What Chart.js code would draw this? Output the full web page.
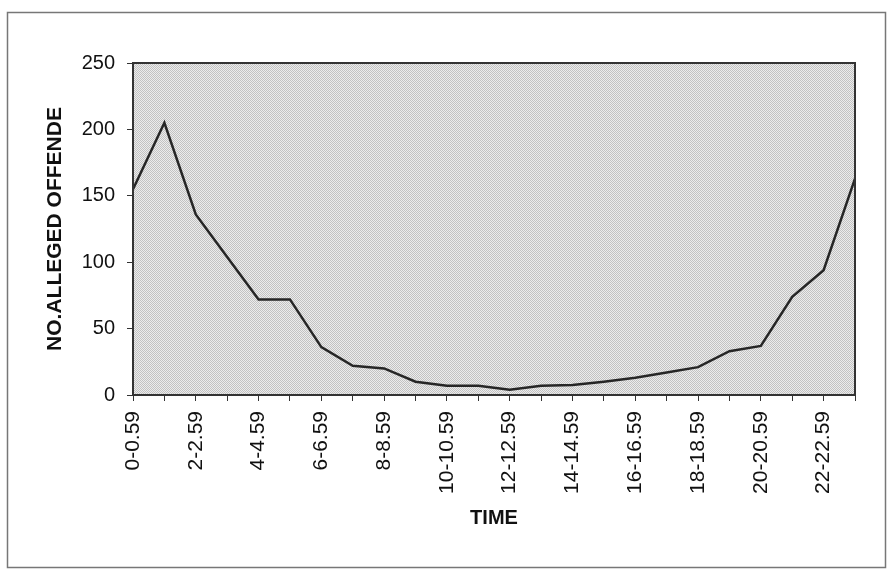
<!DOCTYPE html>
<html lang="en">
<head>
    <meta charset="UTF-8">
    <title>Alleged offenders by time</title>
    <script src="https://cdn.jsdelivr.net/npm/chart.js"></script>
    <style>
        body { margin: 0; background: #ffffff; }
        canvas { display: block; }
    </style>
</head>
<body>
    <canvas id="offendersChart" width="892" height="577"></canvas>

    <script>
        // data
        const timeLabels = ['0-0.59', '1-1.59', '2-2.59', '3-3.59', '4-4.59', '5-5.59',
            '6-6.59', '7-7.59', '8-8.59', '9-9.59', '10-10.59', '11-11.59',
            '12-12.59', '13-13.59', '14-14.59', '15-15.59', '16-16.59', '17-17.59',
            '18-18.59', '19-19.59', '20-20.59', '21-21.59', '22-22.59', '23-23.59'];
        const offenders = [155, 205, 136, 104, 72, 72, 36, 22, 20, 10, 7, 7,
            4, 7, 7.5, 10, 13, 17, 21, 33, 37, 74, 94, 163];
        const yTicks = [0, 50, 100, 150, 200, 250];

        // dotted grey fill like the old printout
        function makePattern() {
            let c = document.createElement('canvas');
            c.width = 2;
            c.height = 2;
            let p = c.getContext('2d');
            p.fillStyle = '#ececec';
            p.fillRect(0, 0, 2, 2);
            p.fillStyle = '#c2c2c2';
            p.fillRect(0, 0, 1, 1);
            p.fillRect(1, 1, 1, 1);
            return p.createPattern(c, 'repeat');
        }

        const plotBox = {
            id: 'plotBox',
            beforeDatasetsDraw(chart) {
                const {ctx, chartArea} = chart;
                ctx.save();
                ctx.fillStyle = makePattern();
                ctx.fillRect(chartArea.left, chartArea.top, chartArea.right - chartArea.left, chartArea.bottom - chartArea.top);
                ctx.restore();
            },
            afterDraw(chart) {
                const {ctx, chartArea} = chart;
                ctx.save();
                ctx.strokeStyle = '#333333';
                ctx.lineWidth = 2;
                ctx.strokeRect(chartArea.left, chartArea.top, chartArea.right - chartArea.left, chartArea.bottom - chartArea.top);
                // outer frame
                ctx.strokeStyle = '#777777';
                ctx.lineWidth = 1.5;
                ctx.strokeRect(7.5, 12.5, 878, 555);
                ctx.restore();
            }
        };

        const ctx = document.getElementById('offendersChart').getContext('2d');
        const offendersChart = new Chart(ctx, {
            type: 'line',
            data: {
                labels: timeLabels,
                datasets: [{
                    label: 'NO.ALLEGED OFFENDE',
                    data: offenders,
                    borderColor: '#262626',
                    borderWidth: 2.5,
                    pointRadius: 0,
                    tension: 0,
                    fill: false
                }]
            },
            options: {
                responsive: false,
                animation: false,
                devicePixelRatio: 1,
                layout: {
                    padding: { left: 8, top: 63, right: 37, bottom: 0 }
                },
                plugins: {
                    legend: { display: false },
                    tooltip: { enabled: false }
                },
                scales: {
                    x: {
                        offset: false,
                        afterFit: (scale) => { scale.height = 182; },
                        grid: {
                            drawOnChartArea: false,
                            color: '#333333',
                            tickLength: 6
                        },
                        border: { display: false },
                        ticks: {
                            autoSkip: false,
                            maxRotation: 90,
                            minRotation: 90,
                            padding: 10,
                            color: '#111111',
                            font: { family: 'Liberation Sans, Arial', size: 21 },
                            callback: function (val, i) {
                                return i % 2 === 0 ? this.getLabelForValue(val) : '';
                            }
                        },
                        title: {
                            display: true,
                            text: 'TIME',
                            color: '#111111',
                            font: { family: 'Liberation Sans, Arial', size: 20, weight: 'bold' },
                            padding: { top: 0, bottom: 47 }
                        }
                    },
                    y: {
                        min: 0,
                        max: 250,
                        afterFit: (scale) => { scale.width = 125; },
                        afterBuildTicks: (scale) => {
                            scale.ticks = yTicks.map(v => ({ value: v }));
                        },
                        grid: {
                            drawOnChartArea: false,
                            color: '#333333',
                            tickLength: 6
                        },
                        border: { display: false },
                        ticks: {
                            padding: 12,
                            color: '#111111',
                            font: { family: 'Liberation Sans, Arial', size: 20 }
                        },
                        title: {
                            display: true,
                            text: 'NO.ALLEGED OFFENDE',
                            color: '#111111',
                            font: { family: 'Liberation Sans, Arial', size: 21, weight: 'bold' },
                            padding: { top: 35, bottom: 0 }
                        }
                    }
                }
            },
            plugins: [plotBox]
        });
    </script>
</body>
</html>
